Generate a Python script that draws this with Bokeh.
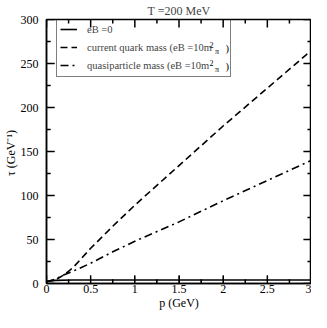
from bokeh.plotting import figure
from bokeh.models import (Range1d, Legend, LegendItem, FixedTicker)
from bokeh.core.properties import value
from bokeh.embed import file_html
from bokeh.resources import INLINE

# ---- data ----
title_text = "T =200 MeV"
x_label = "p (GeV)"
y_label = "τ  (GeV⁻¹)"

p_solid = [0.0, 0.1, 0.3, 0.5, 1.0, 1.5, 2.0, 2.5, 3.0]
tau_solid = [2.5, 3.5, 4.0, 4.0, 4.0, 4.0, 4.0, 4.0, 4.0]

p_vals = [0.0, 0.1, 0.2, 0.3, 0.5, 0.75, 1.0, 1.5, 2.0, 2.5, 3.0]
tau_current = [2, 4, 10, 18, 40, 65, 89, 134, 179, 222, 265]
tau_quasi = [2, 5, 10, 14, 23, 36, 48, 70, 94, 117, 140]

legend_labels = ["eB =0", "current quark mass (eB =10m", "quasiparticle mass (eB =10m"]
sup_text = "2"
sub_text = "π"
close_text = ")"

x_start, x_end = 0.0, 3.0
y_start, y_end = 0.0, 300.0
x_ticks = [0, 0.5, 1, 1.5, 2, 2.5, 3]
x_minor = [0.25, 0.75, 1.25, 1.75, 2.25, 2.75]
x_tick_labels = ["0", "0.5", "1", "1.5", "2", "2.5", "3"]
y_ticks = [0, 50, 100, 150, 200, 250, 300]
y_minor = [25, 75, 125, 175, 225, 275]
y_tick_labels = ["0", "50", "100", "150", "200", "250", "300"]

FONT = "Liberation Serif"
W, H = 311, 312

p = figure(width=W, height=H, x_range=Range1d(x_start, x_end), y_range=Range1d(y_start, y_end),
           output_backend="svg", toolbar_location=None,
           min_border_left=38, min_border_right=0, min_border_top=0, min_border_bottom=0)

p.title.text = title_text
p.title.align = "center"
p.title.text_font = FONT
p.title.text_font_size = "12px"
p.title.text_font_style = "normal"
p.title.standoff = 3

p.xgrid.visible = False
p.ygrid.visible = False
p.outline_line_color = "black"
p.outline_line_width = 1.5

for ax, tk, mn, labels in ((p.xaxis[0], x_ticks, x_minor, x_tick_labels),
                           (p.yaxis[0], y_ticks, y_minor, y_tick_labels)):
    ax.ticker = FixedTicker(ticks=list(tk), minor_ticks=list(mn))
    ax.major_tick_in = 8
    ax.major_tick_out = 0
    ax.minor_tick_in = 4
    ax.minor_tick_out = 0
    ax.major_tick_line_color = "black"
    ax.minor_tick_line_color = "black"
    ax.axis_line_width = 1.5
    ax.axis_line_color = "black"
    ax.major_label_overrides = {t: l for t, l in zip(tk, labels)}
    ax.major_label_text_font = FONT
    ax.major_label_text_font_size = "12px"
    ax.major_label_text_color = "black"
    ax.major_label_text_line_height = 1.0
    ax.axis_label_text_font = FONT
    ax.axis_label_text_font_size = "12px"
    ax.axis_label_text_font_style = "normal"
    ax.axis_label_text_color = "black"
    ax.axis_label_text_line_height = 1.0
    ax.axis_label_standoff = 0
p.xaxis[0].axis_label = x_label
p.yaxis[0].axis_label = y_label
p.xaxis[0].major_label_standoff = 1
p.yaxis[0].major_label_standoff = 8

r1 = p.line(p_solid, tau_solid, line_color="black", line_width=1.6)
r2 = p.line(p_vals, tau_current, line_color="black", line_width=1.6, line_dash="7 4")
r3 = p.line(p_vals, tau_quasi, line_color="black", line_width=1.6, line_dash="8 4 2 4")

# inward tick marks on all four sides, drawn as one broken line (NaN separates the pieces)
frame_w = 262.0
frame_h = 264.0
dy_major = 8 * (y_end - y_start) / frame_h
dy_minor = 4 * (y_end - y_start) / frame_h
dx_major = 8 * (x_end - x_start) / frame_w
dx_minor = 4 * (x_end - x_start) / frame_w
NAN = float("nan")
tick_x, tick_y = [], []
for xs, d in ((x_ticks, dy_major), (x_minor, dy_minor)):
    for xv in xs:
        tick_x += [float(xv), float(xv), NAN, float(xv), float(xv), NAN]
        tick_y += [y_start, y_start + d, NAN, y_end, y_end - d, NAN]
for ys, d in ((y_ticks, dx_major), (y_minor, dx_minor)):
    for yv in ys:
        tick_x += [x_start, x_start + d, NAN, x_end, x_end - d, NAN]
        tick_y += [float(yv), float(yv), NAN, float(yv), float(yv), NAN]
p.line(tick_x, tick_y, line_color="black", line_width=1.5)

legend = Legend(items=[LegendItem(label=legend_labels[0], renderers=[r1]),
                       LegendItem(label=legend_labels[1], renderers=[r2]),
                       LegendItem(label=legend_labels[2], renderers=[r3])],
                location=(10, 206), padding=3, spacing=2, glyph_height=16, glyph_width=17,
                label_height=16, label_width=140, label_standoff=10, margin=0,
                label_text_font=FONT, label_text_font_size="10.5px",
                border_line_color="black", border_line_width=1,
                background_fill_alpha=0.0)
p.add_layout(legend)

# super/subscripts of the legend labels, placed in pixels from the frame's top-left corner
row_px = [29.0, 47.0]
n = len(row_px)
p.text([x_start] * n, [y_end] * n, text=[sup_text] * n, x_offset=163.0, y_offset=[r - 4.0 for r in row_px],
       text_font=value(FONT), text_font_size="8px", text_baseline="middle", text_align="left",
       text_color="black")
p.text([x_start] * n, [y_end] * n, text=[sub_text] * n, x_offset=168.5, y_offset=[r + 3.0 for r in row_px],
       text_font=value(FONT), text_font_size="8px", text_baseline="middle", text_align="left",
       text_color="black")
p.text([x_start] * n, [y_end] * n, text=[close_text] * n, x_offset=179.0, y_offset=list(row_px),
       text_font=value(FONT), text_font_size="10.5px", text_baseline="middle", text_align="left",
       text_color="black")

open("out.html", "w").write(file_html(p, INLINE))
